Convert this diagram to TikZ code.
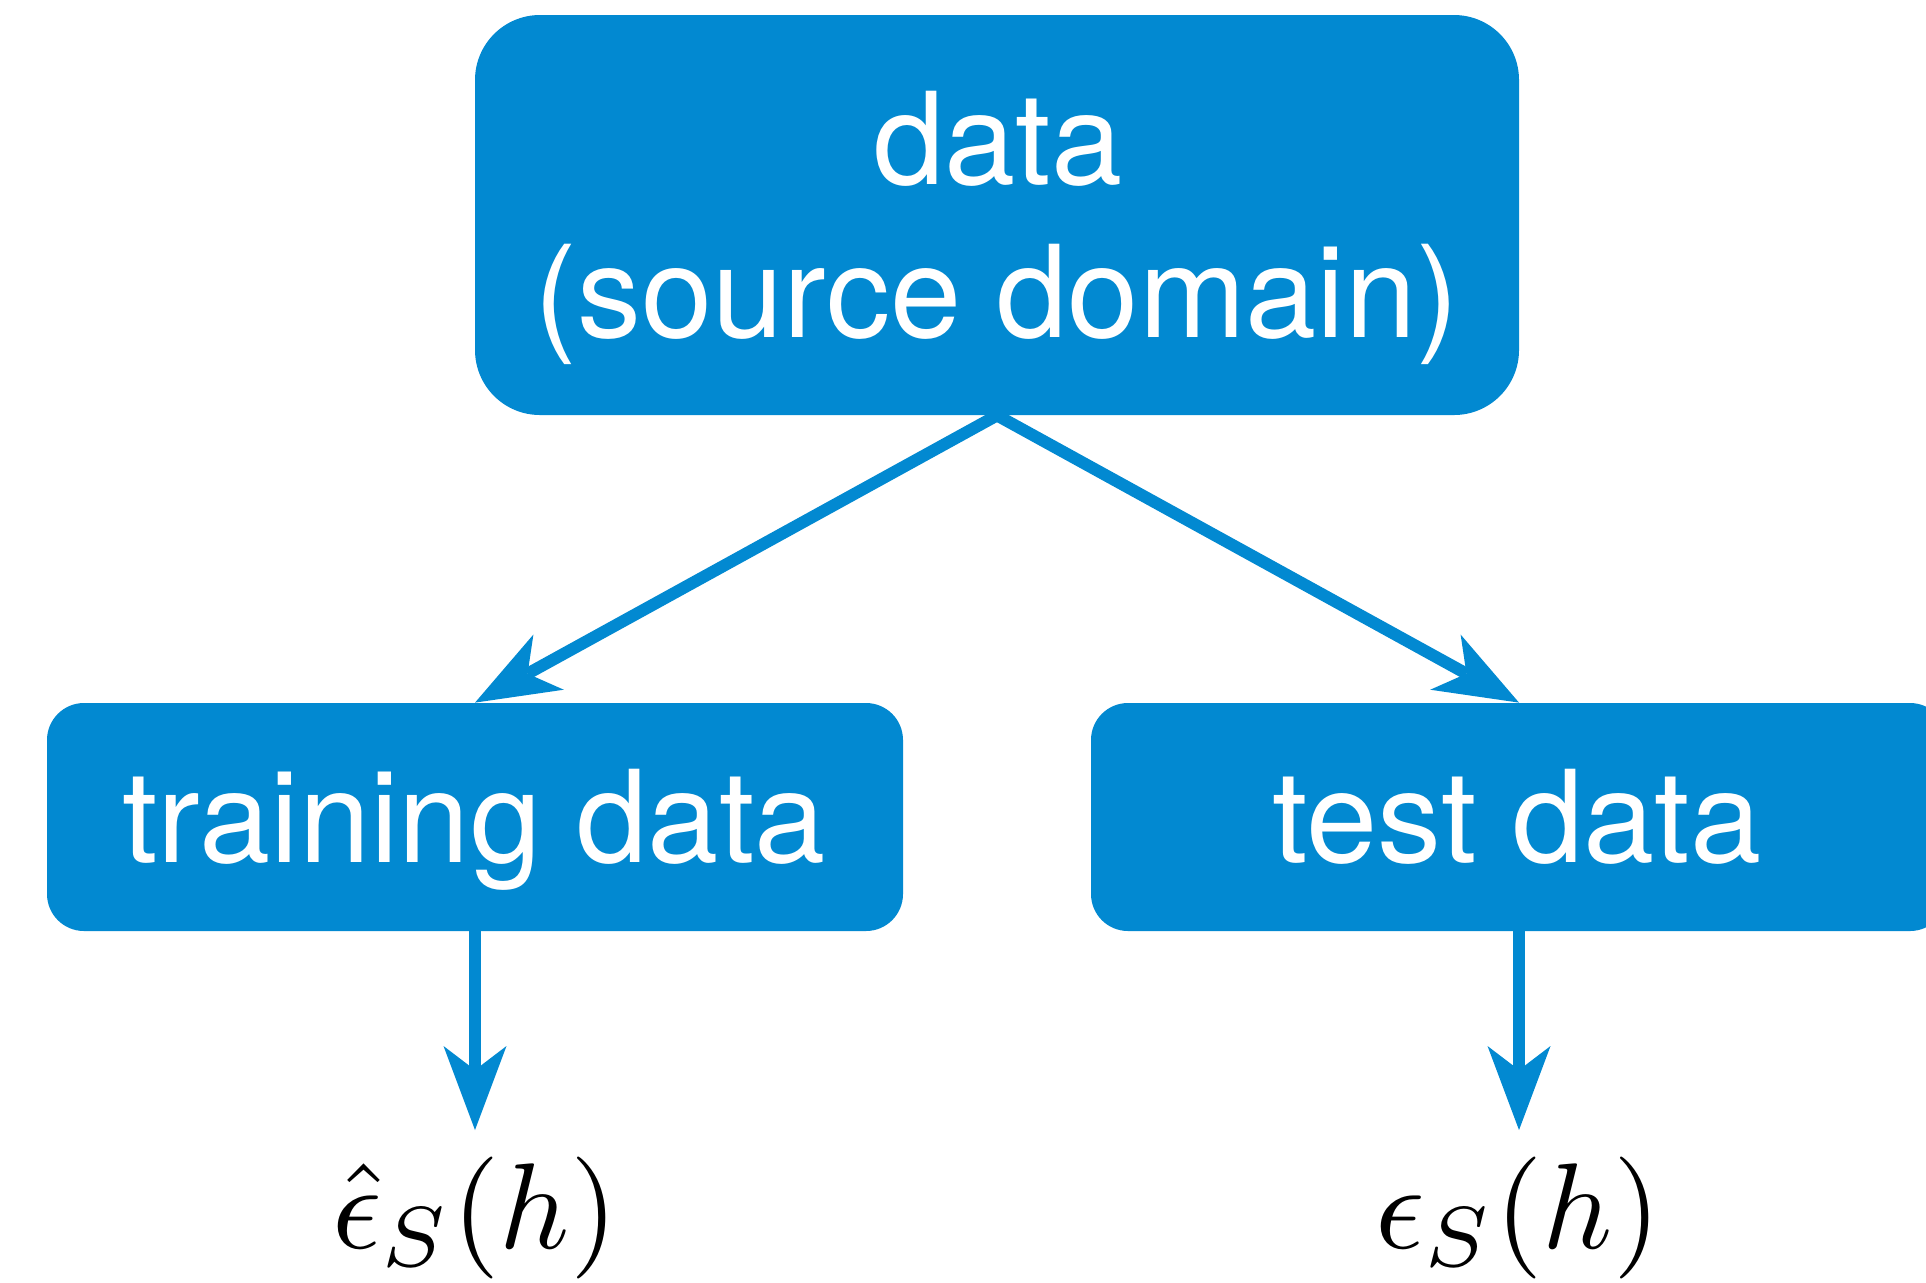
\documentclass[tikz,border=0pt]{standalone}
\usepackage{graphicx}
\usepackage{fontspec}
\setmainfont{TeX Gyre Heros}
\usetikzlibrary{arrows.meta}
\definecolor{boxblue}{RGB}{2,137,209}
\tikzset{
  blockbox/.style={fill=boxblue, draw=none, inner sep=0pt},
  blocktext/.style={text=white, inner sep=0pt, anchor=base,
    font=\fontsize{64}{76}\selectfont},
  mathlabel/.style={inner sep=0pt, anchor=base},
  flow/.style={draw=boxblue, line width=6pt,
    -{Stealth[length=42pt, width=31.5pt, inset=12pt, line width=0pt]}},
}
\newcommand{\bigmath}[1]{\scalebox{6.1}{\fontsize{10}{12}\selectfont$#1$}}
\begin{document}
\begin{tikzpicture}[x=0.5pt, y=-0.5pt]
  \useasboundingbox (0,0) rectangle (1926,1282);
  \clip (0,0) rectangle (1926,1282);

  % boxes
  \node[blockbox, rounded corners=32.5pt, minimum width=522pt, minimum height=200pt]
    (src) at (997,215) {};
  \node[blockbox, rounded corners=18.5pt, minimum width=428pt, minimum height=114pt]
    (train) at (475,817) {};
  \node[blockbox, rounded corners=18.5pt, minimum width=428pt, minimum height=114pt]
    (test) at (1519,817) {};

  % box texts
  \node[blocktext] (srcA) at (998,184) {data};
  \node[blocktext] (srcB) at (997,337) {(source domain)};
  \node[blocktext] (trainT) at (474,862) {training data};
  \node[blocktext] (testT) at (1517,862) {test data};

  % error terms
  \node[mathlabel] (emp) at (475,1248) {\bigmath{\hat{\epsilon}_S(h)}};
  \node[mathlabel] (true) at (1518,1248) {\bigmath{\epsilon_S(h)}};
  \coordinate (empTip) at (475,1130);
  \coordinate (trueTip) at (1519,1130);

  % connectors
  \draw[flow] (src.south) -- (train.north);
  \draw[flow] (src.south) -- (test.north);
  \draw[flow] (train.south) -- (empTip);
  \draw[flow] (test.south) -- (trueTip);
\end{tikzpicture}
\end{document}
